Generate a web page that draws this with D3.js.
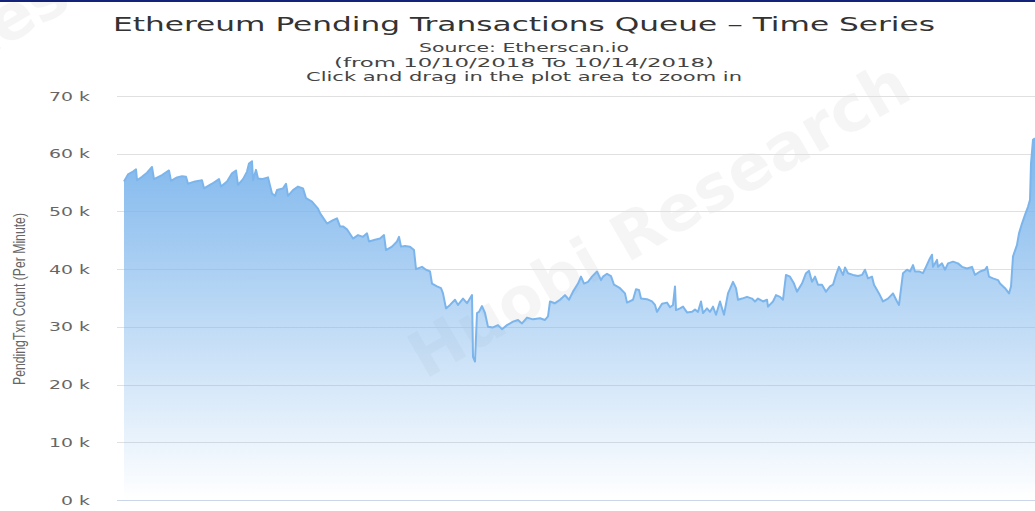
<!DOCTYPE html>
<html>
<head>
<meta charset="utf-8">
<script src="https://cdn.jsdelivr.net/npm/d3@7"></script>
<style>
  html, body { margin: 0; padding: 0; background: #fff; }
  svg { display: block; }
</style>
</head>
<body>
<svg id="chart" width="1035" height="511"></svg>
<script>
// ---- data (minutes since 2018-10-10 00:00, pending txn count in thousands) ----
const minutesSinceStart = [
  0,32,72,96,104,144,184,224,240,304,360,376,424,464,496,512,568,624,640,704,
  760,776,824,864,896,912,952,984,1000,1024,1032,1056,1072,1104,1152,1184,1208,1224,1272,1296,
  1312,1352,1392,1432,1456,1504,1552,1568,1624,1672,1704,1728,1752,1784,1832,1872,1912,1944,1960,2008,
  2048,2080,2096,2144,2184,2200,2216,2248,2288,2320,2336,2384,2416,2448,2464,2504,2536,2552,2576,2608,
  2648,2672,2712,2744,2784,2792,2808,2824,2840,2864,2888,2912,2952,2992,3024,3064,3112,3152,3184,3224,
  3272,3328,3368,3392,3408,3448,3488,3528,3560,3592,3632,3656,3680,3712,3744,3784,3816,3832,3864,3896,
  3920,3968,4008,4024,4072,4096,4120,4136,4184,4224,4248,4264,4304,4344,4368,4392,4408,4416,4448,4472,
  4504,4544,4568,4592,4616,4632,4664,4688,4712,4736,4768,4800,4832,4872,4896,4912,4944,4984,5024,5048,
  5072,5112,5144,5152,5192,5216,5248,5272,5296,5328,5360,5384,5424,5456,5480,5504,5528,5552,5584,5616,
  5648,5672,5696,5720,5752,5768,5792,5832,5872,5904,5928,5952,5984,6000,6040,6072,6112,6152,6184,6200,
  6232,6264,6288,6312,6328,6360,6392,6416,6448,6464,6472,6504,6512,6544,6568,6592,6632,6672,6704,6744,
  6784,6808,6848,6888,6904,6920,6952,6992,7008,7048,7080,7096,7112,7144,7160,7184,7208,7232,7248,7256,
  7272,7288
];
const pendingK = [
  55.2,56.4,56.9,57.3,55.4,56.0,56.7,57.7,55.6,56.3,57.1,55.3,55.9,56.1,56.0,54.8,55.2,55.4,54.0,54.8,
  55.6,54.3,55.2,56.6,57.1,54.6,55.6,56.9,58.3,58.7,55.4,57.2,55.7,55.6,55.9,53.1,52.7,53.7,54.0,54.8,
  52.7,53.7,54.3,54.0,52.3,51.7,50.5,49.7,47.9,48.5,48.8,47.4,47.4,46.9,45.3,45.9,45.6,46.2,44.8,45.1,
  45.3,45.9,43.3,43.9,44.8,45.6,43.9,44.0,43.9,43.3,40.0,40.4,39.9,39.6,37.5,37.0,36.7,35.8,33.2,33.8,
  34.7,33.8,34.9,34.1,35.5,24.8,24.0,32.4,32.6,33.6,32.4,30.0,29.9,30.3,29.6,30.3,30.9,31.2,30.6,31.6,
  31.3,31.5,31.2,31.8,34.4,34.1,34.7,35.5,34.7,36.1,37.5,38.7,37.5,37.8,38.7,39.6,38.1,38.7,39.2,38.8,
  37.3,36.7,35.8,34.2,34.7,36.5,36.4,34.9,34.8,34.4,33.8,32.6,34.0,34.2,33.4,33.8,37.0,32.9,33.2,33.5,
  32.5,32.6,33.0,32.6,34.4,32.4,33.2,32.6,33.5,32.1,34.4,32.1,35.8,37.8,36.7,34.7,34.9,35.2,34.9,34.4,
  34.9,34.4,34.7,33.5,34.4,35.5,35.2,34.7,39.0,38.7,37.5,36.1,37.5,39.3,39.7,37.8,38.7,37.3,37.3,36.1,
  37.0,37.3,39.0,40.4,39.0,40.3,39.3,39.0,38.8,39.0,39.9,38.4,38.7,37.3,35.8,34.4,34.9,35.8,34.4,33.8,
  39.3,39.9,39.6,40.7,39.6,39.6,39.3,40.4,41.9,42.5,40.4,41.6,40.4,41.0,39.9,41.0,41.3,41.0,40.4,40.1,
  40.4,39.0,39.6,39.9,40.4,38.7,38.4,38.1,37.5,36.7,35.8,37.0,42.2,44.2,46.2,47.9,49.4,50.8,52.0,58.3,
  62.4,62.7
];
const yTicksK = [0, 10, 20, 30, 40, 50, 60, 70];
const titleText = "Ethereum Pending Transactions Queue – Time Series";
const subtitleLines = ["Source: Etherscan.io", "(from 10/10/2018 To 10/14/2018)", "Click and drag in the plot area to zoom in"];
const yAxisTitle = "PendingTxn Count (Per Minute)";

// ---- build ----
const startTime = new Date(Date.UTC(2018, 9, 10, 0, 0));
const data = minutesSinceStart.map((m, i) => ({
  t: new Date(startTime.getTime() + m * 60000),
  v: pendingK[i] * 1000
}));

const svg = d3.select("#chart");
const plotLeft = 117, plotRight = 1035, plotTop = 96, plotBottom = 500;
const seriesLeft = 124;

const x = d3.scaleUtc().domain(d3.extent(data, d => d.t)).range([seriesLeft, plotRight]);
const y = d3.scaleLinear().domain([0, 70000]).range([plotBottom, plotTop]);

const defs = svg.append("defs");
const grad = defs.append("linearGradient").attr("id", "areaGrad")
  .attr("x1", 0).attr("y1", 0).attr("x2", 0).attr("y2", 1);
grad.append("stop").attr("offset", "0%").attr("stop-color", "#7cb5ec").attr("stop-opacity", 1);
grad.append("stop").attr("offset", "100%").attr("stop-color", "#7cb5ec").attr("stop-opacity", 0);

// top border band
svg.append("rect").attr("x", 0).attr("y", 0).attr("width", 1035).attr("height", 2).attr("fill", "#14237a");

// watermarks
svg.append("text")
  .attr("transform", "translate(425,380) rotate(-30)")
  .attr("font-family", "DejaVu Sans, sans-serif").attr("font-weight", "bold")
  .attr("font-size", 64).attr("fill", "#000").attr("fill-opacity", 0.04)
  .text("Huobi Research");
svg.append("text")
  .attr("transform", "translate(-40,72) rotate(-30)")
  .attr("font-family", "DejaVu Sans, sans-serif").attr("font-weight", "bold")
  .attr("font-size", 64).attr("fill", "#000").attr("fill-opacity", 0.04)
  .text("Rese");

// gridlines
svg.append("g").selectAll("line").data(yTicksK).join("line")
  .attr("x1", plotLeft).attr("x2", plotRight)
  .attr("y1", d => Math.round(y(d * 1000)) + 0.5).attr("y2", d => Math.round(y(d * 1000)) + 0.5)
  .attr("stroke", d => d === 0 ? "#ccd6eb" : "#e0e0e0").attr("stroke-width", 1);

// area + line
const area = d3.area().x(d => x(d.t)).y0(y(0)).y1(d => y(d.v));
const line = d3.line().x(d => x(d.t)).y(d => y(d.v));
svg.append("path").datum(data).attr("d", area).attr("fill", "url(#areaGrad)");
svg.append("path").datum(data).attr("d", line)
  .attr("fill", "none").attr("stroke", "#7cb5ec").attr("stroke-width", 2).attr("stroke-linejoin", "round");

// y tick labels
svg.append("g").selectAll("text").data(yTicksK).join("text")
  .attr("transform", d => `translate(90,${y(d * 1000) + 4.5}) scale(1.45,1)`)
  .attr("text-anchor", "end")
  .attr("font-family", "DejaVu Sans, sans-serif").attr("font-size", 13)
  .attr("fill", "#666")
  .text(d => `${d} k`);

// y axis title
svg.append("text")
  .attr("transform", "translate(25,299) rotate(-90)")
  .attr("text-anchor", "middle")
  .attr("font-family", "Liberation Sans Narrow, Liberation Sans, sans-serif").attr("font-size", 17)
  .attr("fill", "#666")
  .attr("textLength", 172).attr("lengthAdjust", "spacingAndGlyphs")
  .text(yAxisTitle);

// title
svg.append("text")
  .attr("x", 524).attr("y", 31)
  .attr("text-anchor", "middle")
  .attr("font-family", "DejaVu Sans, sans-serif").attr("font-size", 19)
  .attr("fill", "#333")
  .attr("textLength", 822).attr("lengthAdjust", "spacingAndGlyphs")
  .text(titleText);

// subtitles
const subW = [210, 380, 436];
const subY = [52, 67, 81];
subtitleLines.forEach((s, i) => {
  svg.append("text")
    .attr("x", 524).attr("y", subY[i])
    .attr("text-anchor", "middle")
    .attr("font-family", "DejaVu Sans, sans-serif").attr("font-size", 13)
    .attr("fill", "#444")
    .attr("textLength", subW[i]).attr("lengthAdjust", "spacingAndGlyphs")
    .text(s);
});
</script>
</body>
</html>
